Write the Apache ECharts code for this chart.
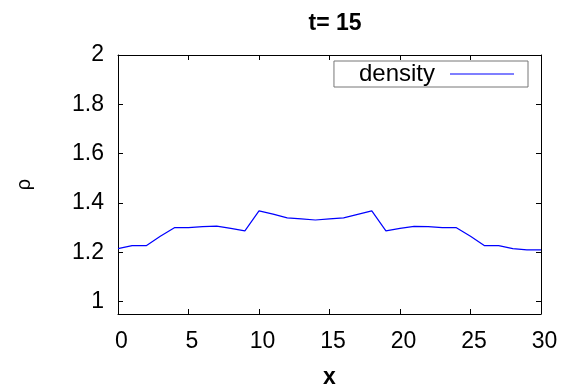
<!DOCTYPE html>
<html><head><meta charset="utf-8">
<script src="https://cdn.jsdelivr.net/npm/echarts@6/dist/echarts.min.js"></script>
<style>html,body{margin:0;padding:0;background:#fff}#c{width:563px;height:385px}</style>
</head><body><div id="c"></div>
<script>
const xValues = [0,1,2,3,4,5,6,7,8,9,10,11,12,13,14,15,16,17,18,19,20,21,22,23,24,25,26,27,28,29,30];
const density = [1.215,1.227,1.227,1.265,1.300,1.300,1.304,1.306,1.297,1.287,1.368,1.355,1.340,1.336,1.331,1.336,1.340,1.354,1.368,1.287,1.297,1.305,1.304,1.300,1.300,1.265,1.227,1.227,1.215,1.210,1.210];
const xTicks = [0,5,10,15,20,25,30];
const yTicks = [1,1.2,1.4,1.6,1.8,2];
const titleText = 't= 15';
const seriesName = 'density';

const font = 'Liberation Sans, Arial, sans-serif';
const chart = echarts.init(document.getElementById('c'));
const axisCommon = {
  type: 'value',
  axisLine: {show: true, onZero: false, lineStyle: {color: '#000', width: 1}},
  splitLine: {show: false}
};
chart.setOption({
  animation: false,
  backgroundColor: '#fff',
  title: {text: titleText, left: 330, textAlign: 'center', top: 7, textStyle: {fontFamily: font, fontSize: 23, fontWeight: 'bold', color: '#000'}},
  legend: {
    data: [{name: seriesName, icon: 'path://M0,0L64,0L64,1L0,1Z'}],
    right: 35, top: 61, align: 'right',
    itemWidth: 64, itemHeight: 1.3, itemGap: 10,
    padding: [1, 14, 1, 25],
    borderColor: '#777', borderWidth: 1,
    itemStyle: {color: '#0000ff'},
    textStyle: {fontFamily: font, fontSize: 24, color: '#000', padding: [0, 10, 0, 0]}
  },
  grid: {left: 118, right: 22, top: 55, bottom: 71, containLabel: false, outerBoundsMode: 'none'},
  xAxis: [
    Object.assign({}, axisCommon, {
      min: 0, max: 30, interval: 5, position: 'bottom',
      name: 'x', nameLocation: 'middle', nameGap: 52,
      nameTextStyle: {fontFamily: font, fontSize: 23, fontWeight: 'bold', color: '#000'},
      axisTick: {show: true, inside: true, length: 5, lineStyle: {color: '#000'}, customValues: xTicks},
      axisLabel: {show: true, margin: 16, fontFamily: font, fontSize: 23, color: '#000', customValues: xTicks, padding: [0, 0, 0, 7]}
    }),
    Object.assign({}, axisCommon, {
      min: 0, max: 30, interval: 5, position: 'top',
      axisTick: {show: true, inside: true, length: 5, lineStyle: {color: '#000'}, customValues: xTicks},
      axisLabel: {show: false}
    })
  ],
  yAxis: [
    Object.assign({}, axisCommon, {
      min: 0.95, max: 2, position: 'left',
      name: 'ρ', nameLocation: 'middle', nameGap: 84, nameRotate: 90,
      nameTextStyle: {fontFamily: font, fontSize: 20, color: '#000'},
      axisTick: {show: true, inside: true, length: 5, lineStyle: {color: '#000'}, customValues: yTicks},
      axisLabel: {show: true, margin: 14, fontFamily: font, fontSize: 23, color: '#000', customValues: yTicks,
        formatter: v => String(Math.round(v * 10) / 10)}
    }),
    Object.assign({}, axisCommon, {
      min: 0.95, max: 2, position: 'right',
      axisTick: {show: true, inside: true, length: 5, lineStyle: {color: '#000'}, customValues: yTicks},
      axisLabel: {show: false}
    })
  ],
  series: [{
    name: seriesName, type: 'line', xAxisIndex: 0, yAxisIndex: 0,
    data: xValues.map((x, i) => [x, density[i]]),
    showSymbol: false, symbol: 'none',
    lineStyle: {color: '#0000ff', width: 1.2}, itemStyle: {color: '#0000ff'}
  }]
});
</script></body></html>
